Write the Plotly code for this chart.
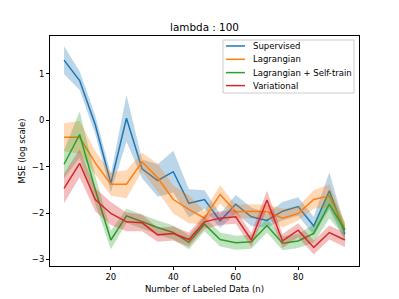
import plotly.graph_objects as go

n_labeled = [5, 10, 15, 20, 25, 30, 35, 40, 45, 50, 55, 60, 65, 70, 75, 80, 85, 90, 95]

sup_mean = [1.29, 0.85, -0.10, -1.36, 0.04, -1.05, -1.30, -1.11, -1.79, -1.71, -2.17, -1.81, -2.08, -2.16, -1.96, -1.86, -2.28, -1.52, -2.45]
sup_std = [0.30, 0.20, 0.20, 0.20, 0.50, 0.20, 0.35, 0.45, 0.30, 0.20, 0.15, 0.20, 0.20, 0.15, 0.20, 0.20, 0.20, 0.40, 0.15]

lag_mean = [-0.37, -0.37, -0.92, -1.38, -1.38, -0.90, -1.24, -1.71, -1.92, -2.11, -1.60, -1.97, -1.96, -1.97, -2.11, -2.01, -1.71, -1.63, -2.35]
lag_std = [0.30, 0.35, 0.25, 0.25, 0.30, 0.20, 0.30, 0.30, 0.30, 0.15, 0.20, 0.15, 0.15, 0.15, 0.20, 0.15, 0.20, 0.25, 0.15]

lst_mean = [-0.95, -0.31, -1.50, -2.58, -2.06, -2.19, -2.31, -2.42, -2.63, -2.24, -2.57, -2.64, -2.62, -2.27, -2.65, -2.60, -2.44, -1.81, -2.37]
lst_std = [0.30, 0.50, 0.30, 0.20, 0.15, 0.15, 0.15, 0.15, 0.15, 0.15, 0.15, 0.15, 0.15, 0.15, 0.15, 0.15, 0.20, 0.30, 0.15]

var_mean = [-1.47, -0.93, -1.71, -2.01, -2.19, -2.21, -2.47, -2.44, -2.57, -2.19, -2.11, -2.08, -2.58, -1.72, -2.60, -2.37, -2.74, -2.42, -2.58]
var_std = [0.32, 0.30, 0.25, 0.25, 0.20, 0.18, 0.15, 0.15, 0.15, 0.15, 0.15, 0.15, 0.15, 0.20, 0.15, 0.15, 0.15, 0.15, 0.15]

names = ["Supervised", "Lagrangian", "Lagrangian + Self-train", "Variational"]
colors = ["#1f77b4", "#ff7f0e", "#2ca02c", "#d62728"]
fills = ["rgba(31,119,180,0.3)", "rgba(255,127,14,0.3)", "rgba(44,160,44,0.3)", "rgba(214,39,40,0.3)"]
means = [sup_mean, lag_mean, lst_mean, var_mean]
stds = [sup_std, lag_std, lst_std, var_std]

W, H = 399, 299
ML, MR, MT, MB = 50, 40, 36, 33
PW, PH = W - ML - MR, H - MT - MB


def px_to_paper(xp, yp):
    return (xp - ML) / PW, (H - MB - yp) / PH


fig = go.Figure()
for name, c, fc, m, s in zip(names, colors, fills, means, stds):
    upper = [a + b for a, b in zip(m, s)]
    lower = [a - b for a, b in zip(m, s)]
    fig.add_trace(go.Scatter(x=n_labeled, y=m, mode="lines", name=name, line=dict(color=c, width=1.5)))
    fig.add_trace(go.Scatter(x=n_labeled, y=upper, mode="lines", line=dict(width=0, color=c),
                             showlegend=False, hoverinfo="skip"))
    fig.add_trace(go.Scatter(x=n_labeled, y=lower, mode="lines", line=dict(width=0, color=c),
                             fill="tonexty", fillcolor=fc, showlegend=False, hoverinfo="skip"))

# legend drawn like matplotlib's (compact rows)
shapes = []
annotations = []
bx0, by0 = px_to_paper(223, 40)
bx1, by1 = px_to_paper(354, 93)
shapes.append(dict(type="rect", xref="paper", yref="paper", x0=bx0, y0=by1, x1=bx1, y1=by0,
                   line=dict(color="#cccccc", width=1), fillcolor="rgba(255,255,255,0.8)", layer="above"))
row_y = [46, 59.3, 72.6, 85.6]
for name, c, ry in zip(names, colors, row_y):
    lx0, ly = px_to_paper(226, ry)
    lx1, _ = px_to_paper(245, ry)
    tx, _ = px_to_paper(251, ry)
    shapes.append(dict(type="line", xref="paper", yref="paper", x0=lx0, x1=lx1, y0=ly, y1=ly,
                       line=dict(color=c, width=1.5), layer="above"))
    annotations.append(dict(text=name, xref="paper", yref="paper", x=tx, y=ly, xanchor="left", yanchor="middle",
                            showarrow=False, font=dict(size=8.5, color="black")))

axis_common = dict(showgrid=False, zeroline=False, showline=True, linecolor="black", linewidth=1,
                   mirror=True, ticks="outside", ticklen=3, tickcolor="black", automargin=False,
                   tickfont=dict(size=8.5, color="black"))

fig.update_layout(
    width=W, height=H,
    margin=dict(l=ML, r=MR, t=MT, b=MB),
    plot_bgcolor="white", paper_bgcolor="white",
    showlegend=False,
    font=dict(family="DejaVu Sans", size=8.5, color="black"),
    title=dict(text="lambda : 100", x=(ML + PW / 2) / W, xref="container", xanchor="center",
               y=1 - 27 / H, yref="container", yanchor="middle",
               font=dict(size=10.4, color="black")),
    xaxis=dict(range=[0.5, 99.5], tickvals=[20, 40, 60, 80],
               title=dict(text="Number of Labeled Data (n)", standoff=4, font=dict(size=8.5)), **axis_common),
    yaxis=dict(range=[-3.14, 1.81], tickvals=[-3, -2, -1, 0, 1],
               title=dict(text="MSE (log scale)", standoff=4, font=dict(size=8.5)), **axis_common),
    shapes=shapes,
    annotations=annotations,
)

fig.write_html("out.html", config={"displayModeBar": False},
               post_script="document.body.style.margin='0px';document.body.style.padding='0px';"
                           "document.body.style.overflow='hidden';")
